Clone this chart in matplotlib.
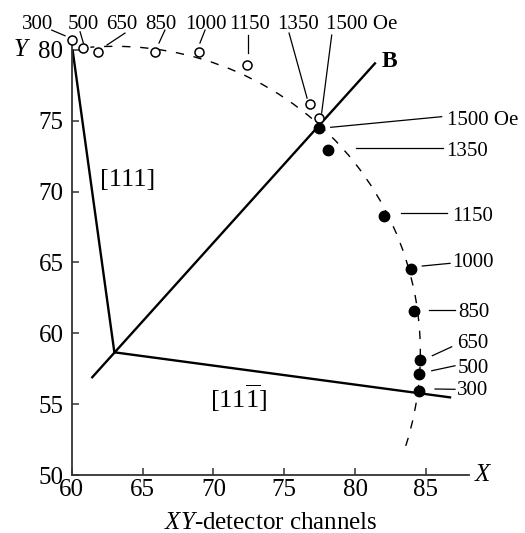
import matplotlib
matplotlib.use("Agg")
import matplotlib.pyplot as plt
from matplotlib.patches import Arc

plt.rcParams['font.family'] = ['Liberation Serif', 'DejaVu Serif']
plt.rcParams['mathtext.fontset'] = 'custom'
plt.rcParams['mathtext.rm'] = 'Liberation Serif'
plt.rcParams['mathtext.it'] = 'Liberation Serif:italic'
plt.rcParams['mathtext.bf'] = 'Liberation Serif:bold'

# ---- data (detector channels) ----
fields = ['300', '500', '650', '850', '1000', '1150', '1350', '1500']
open_x = [60.0, 60.82, 61.83, 65.88, 69.0, 72.35, 76.82, 77.47]
open_y = [80.70, 80.11, 79.87, 79.87, 79.87, 78.93, 76.18, 75.17]
fill_x = [84.53, 84.51, 84.58, 84.16, 83.92, 82.04, 78.11, 77.47]
fill_y = [55.95, 57.13, 58.12, 61.60, 64.54, 68.28, 72.94, 74.47]

# crystal axes: junction and the ends of the three lines
junction = (63.01, 58.66)
end_111 = (60.07, 79.94)
end_11m1 = (86.70, 55.48)
b_low = (61.45, 56.90)
b_high = (81.40, 79.05)

# dashed guide: circle around the junction
arc_radius = 21.6
arc_from, arc_to = -17.8, 94.5

# label placement
top_text_x = [57.60, 60.82, 63.50, 66.32, 69.46, 72.58, 76.00, 80.46]
top_lead = [((58.59, 81.40), (59.53, 81.00)),
            ((60.59, 81.28), (60.82, 80.49)),
            ((63.76, 81.19), (62.49, 80.35)),
            ((66.58, 81.40), (66.16, 80.49)),
            ((69.41, 81.40), (69.05, 80.49)),
            ((72.46, 81.05), (72.46, 79.76)),
            ((75.34, 81.19), (76.61, 76.60)),
            ((78.35, 81.05), (77.64, 75.55))]
right_text = [(87.21, 55.65), (87.21, 57.22), (87.21, 58.94), (87.28, 61.13),
              (86.82, 64.66), (86.82, 67.95), (86.46, 72.51), (86.46, 74.70)]
right_lead = [((85.64, 56.07), (87.05, 56.05)),
              ((85.41, 57.36), (87.05, 57.71)),
              ((85.45, 58.42), (86.82, 59.05)),
              ((85.22, 61.64), (87.05, 61.64)),
              ((84.74, 64.75), (86.70, 64.94)),
              ((83.24, 68.47), (86.46, 68.47)),
              ((80.06, 73.06), (86.22, 73.06)),
              ((78.28, 74.54), (86.11, 75.29))]

fig = plt.figure(figsize=(5.25, 5.33), dpi=100)
ax = fig.add_axes([0.1366, 0.1088, 0.7573, 0.8068])
ax.set_xlim(60, 88.06)
ax.set_ylim(50, 80.35)

# lines
ax.plot([end_111[0], junction[0]], [end_111[1], junction[1]], color='k', lw=1.7, clip_on=False)
ax.plot([junction[0], end_11m1[0]], [junction[1], end_11m1[1]], color='k', lw=1.7, clip_on=False)
ax.plot([b_low[0], b_high[0]], [b_low[1], b_high[1]], color='k', lw=1.7, clip_on=False)

arc = Arc(junction, 2 * arc_radius, 2 * arc_radius, theta1=arc_from, theta2=arc_to,
          color='k', lw=1.0, linestyle=(0, (6, 7)), clip_on=False)
ax.add_patch(arc)

ax.plot(open_x, open_y, 'o', ms=6.5, mfc='white', mec='k', mew=1.1, clip_on=False, zorder=4)
ax.plot(fill_x, fill_y, 'o', ms=7.5, mfc='k', mec='k', clip_on=False, zorder=4)

# labels
for i in range(len(fields)):
    txt = fields[i] + (' Oe' if fields[i] == '1500' else '')
    ax.text(top_text_x[i], 81.45, txt, fontsize=15, ha='center', va='baseline', clip_on=False)
    (x0, y0), (x1, y1) = top_lead[i]
    ax.plot([x0, x1], [y0, y1], color='k', lw=0.9, clip_on=False)
    ax.text(right_text[i][0], right_text[i][1], txt, fontsize=15, ha='left', va='baseline', clip_on=False)
    (x0, y0), (x1, y1) = right_lead[i]
    ax.plot([x0, x1], [y0, y1], color='k', lw=0.9, clip_on=False)

ax.text(63.97, 70.82, '[111]', fontsize=19, ha='center', va='center')
ax.text(71.77, 55.43, r'$\mathrm{[11\overline{1}]}$', fontsize=19, ha='center', va='center')
ax.text(82.39, 79.17, 'B', fontsize=17, fontweight='bold', ha='center', va='center', clip_on=False)

ax.text(56.42, 80.0, 'Y', fontsize=18, style='italic', ha='center', va='center', clip_on=False)
ax.text(88.96, 50.0, 'X', fontsize=18, style='italic', ha='center', va='center', clip_on=False)

ax.set_xlabel(r'$\mathit{XY}$-detector channels', fontsize=18, labelpad=8)

ax.set_xticks([60, 65, 70, 75, 80, 85])
ax.set_yticks([50, 55, 60, 65, 70, 75, 80])
ax.tick_params(direction='in', length=5, width=1.1, labelsize=18, color='#333333')
ax.tick_params(axis='x', pad=3)
ax.tick_params(axis='y', pad=6)
for s in ['top', 'right']:
    ax.spines[s].set_visible(False)
for s in ['left', 'bottom']:
    ax.spines[s].set_linewidth(1.3)
    ax.spines[s].set_color('#333333')

plt.savefig('out.png', dpi=100)
